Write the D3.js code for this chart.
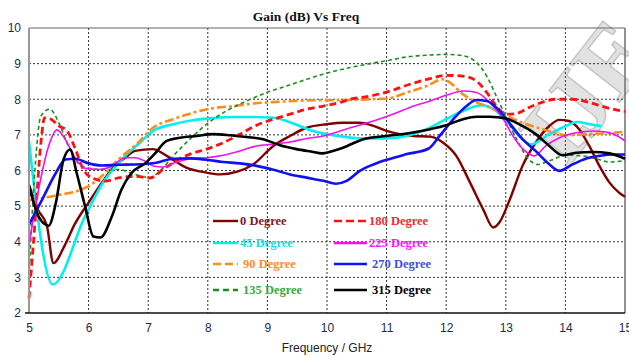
<!DOCTYPE html>
<html>
<head>
<meta charset="utf-8">
<script src="https://cdn.jsdelivr.net/npm/d3@7"></script>
<style>
  body { margin: 0; background: #fff; }
  svg { display: block; }
</style>
</head>
<body>
<div class="dataviz"></div>
<script>
// values, [freq GHz, gain dB]
const deg0 = [[5.0,5.6],[5.15,4.9],[5.3,4.45],[5.41,3.4],[5.6,3.9],[5.77,4.5],[6.0,5.1],[6.22,5.65],[6.45,6.15],[6.61,6.35],[6.78,6.55],[7.08,6.6],[7.31,6.41],[7.64,6.08],[7.98,5.94],[8.2,5.89],[8.48,5.96],[8.76,6.17],[9.1,6.69],[9.38,6.97],[9.66,7.2],[10.0,7.3],[10.27,7.34],[10.55,7.34],[10.78,7.25],[11.0,7.11],[11.22,7.02],[11.45,6.97],[11.73,6.95],[11.95,6.78],[12.17,6.41],[12.4,5.66],[12.62,4.91],[12.79,4.4],[12.9,4.56],[13.07,5.2],[13.28,6.13],[13.5,6.78],[13.73,7.25],[13.9,7.42],[14.06,7.39],[14.23,7.16],[14.4,6.69],[14.57,6.13],[14.74,5.66],[14.9,5.38],[15,5.26]]
const deg45 = [[5.0,6.82],[5.4,2.8],[5.94,4.71],[6.22,5.6],[6.61,6.4],[6.86,6.78],[7.08,7.11],[7.42,7.3],[7.75,7.41],[8.09,7.47],[8.43,7.5],[8.76,7.5],[9.1,7.48],[9.32,7.39],[9.54,7.25],[9.77,7.11],[10.0,7.02],[10.27,6.95],[10.61,6.9],[10.94,6.9],[11.34,6.97],[11.67,7.16],[12.0,7.44],[12.28,7.67],[12.51,7.81],[12.62,7.83],[12.79,7.72],[13.0,7.42],[13.22,6.97],[13.42,6.73],[13.73,7.02],[14.01,7.25],[14.2,7.36],[14.4,7.3],[14.6,7.25]]
const deg90 = [[5.0,5.16],[5.45,5.3],[5.94,5.51],[6.22,5.84],[6.5,6.31],[6.83,6.78],[7.08,7.2],[7.42,7.44],[7.75,7.62],[8.09,7.75],[8.43,7.81],[8.76,7.88],[9.1,7.92],[9.43,7.95],[9.77,7.97],[10.05,7.97],[10.39,7.98],[10.72,8.0],[11.0,8.02],[11.34,8.19],[11.67,8.37],[11.95,8.56],[12.06,8.47],[12.28,8.14],[12.51,7.91],[12.73,7.77],[13.0,7.55],[13.28,7.34],[13.62,7.16],[14.01,6.99],[14.34,7.02],[14.62,7.04],[14.96,7.08]]
const deg135 = [[5.0,3.02],[5.1,6.03],[5.2,7.53],[5.35,7.72],[5.5,7.34],[5.66,6.69],[5.89,6.12],[6.22,6.03],[6.5,6.03],[6.78,5.89],[7.03,5.8],[7.2,5.99],[7.42,6.41],[7.7,6.88],[7.98,7.3],[8.31,7.67],[8.65,7.95],[8.99,8.19],[9.32,8.37],[9.66,8.56],[9.99,8.73],[10.39,8.89],[10.72,9.0],[11.06,9.1],[11.39,9.2],[11.73,9.24],[12.0,9.26],[12.28,9.22],[12.51,9.03],[12.68,8.65],[12.84,8.09],[13.01,7.48],[13.18,6.88],[13.39,6.31],[13.53,6.17],[13.73,6.27],[14.01,6.43],[14.29,6.41],[14.51,6.33],[14.74,6.24],[15,6.28]]
const deg180 = [[5.0,2.41],[5.1,4.53],[5.2,6.78],[5.26,7.48],[5.37,7.44],[5.5,7.25],[5.64,7.11],[5.77,6.64],[5.91,6.03],[6.06,5.79],[6.28,5.7],[6.5,5.79],[6.78,5.84],[7.03,5.79],[7.25,6.03],[7.42,6.22],[7.7,6.46],[7.98,6.6],[8.26,6.78],[8.54,7.02],[8.82,7.27],[9.1,7.44],[9.38,7.58],[9.66,7.72],[9.94,7.81],[10.22,7.91],[10.39,8.0],[10.72,8.09],[11.06,8.23],[11.39,8.42],[11.73,8.58],[12.0,8.67],[12.28,8.65],[12.51,8.51],[12.68,8.19],[12.84,7.81],[13.01,7.58],[13.18,7.6],[13.39,7.77],[13.62,7.92],[13.84,8.0],[14.12,8.0],[14.4,7.91],[14.68,7.77],[15,7.65]]
const deg225 = [[5.0,3.92],[5.16,5.46],[5.33,6.69],[5.47,7.14],[5.61,6.87],[5.77,6.36],[5.94,6.06],[6.17,6.03],[6.39,6.12],[6.61,6.36],[6.78,6.36],[6.95,6.26],[7.1,6.12],[7.25,6.1],[7.42,6.2],[7.7,6.33],[7.98,6.36],[8.26,6.43],[8.54,6.55],[8.82,6.69],[9.1,6.74],[9.38,6.8],[9.66,6.9],[9.94,6.97],[10.05,7.02],[10.39,7.2],[10.72,7.36],[11.06,7.55],[11.39,7.77],[11.73,7.95],[12.0,8.11],[12.28,8.23],[12.51,8.19],[12.73,7.91],[12.96,7.44],[13.12,6.97],[13.29,6.6],[13.48,6.41],[13.67,6.69],[13.9,6.92],[14.18,7.06],[14.46,7.11],[14.68,7.08],[14.85,6.99],[15,6.83]]
const deg270 = [[5.0,4.48],[5.22,5.18],[5.45,5.93],[5.61,6.31],[5.77,6.33],[6.0,6.2],[6.22,6.14],[6.5,6.16],[6.78,6.17],[7.14,6.22],[7.42,6.33],[7.7,6.34],[7.98,6.3],[8.26,6.24],[8.54,6.2],[8.82,6.13],[9.1,6.02],[9.38,5.89],[9.66,5.8],[9.94,5.71],[10.15,5.63],[10.33,5.71],[10.55,5.99],[10.78,6.17],[11.0,6.3],[11.34,6.46],[11.7,6.61],[11.89,6.97],[12.12,7.44],[12.34,7.81],[12.51,7.98],[12.68,7.95],[12.84,7.77],[13.01,7.44],[13.28,6.88],[13.5,6.55],[13.7,6.22],[13.9,5.99],[14.12,6.17],[14.34,6.33],[14.57,6.41],[14.79,6.45],[15,6.45]]
const deg315 = [[5.0,5.56],[5.16,4.71],[5.28,4.48],[5.33,4.45],[5.45,5.09],[5.58,6.31],[5.69,6.59],[5.8,5.93],[5.94,5.0],[6.08,4.15],[6.2,4.12],[6.39,4.71],[6.55,5.46],[6.72,5.93],[6.95,6.2],[7.1,6.45],[7.31,6.83],[7.53,6.92],[7.81,6.97],[8.09,7.02],[8.37,6.99],[8.65,6.94],[8.93,6.88],[9.21,6.71],[9.49,6.6],[9.77,6.52],[9.91,6.48],[10.1,6.55],[10.27,6.64],[10.61,6.88],[11.0,6.97],[11.34,7.04],[11.73,7.16],[12.0,7.27],[12.28,7.44],[12.51,7.51],[12.73,7.51],[13.0,7.46],[13.28,7.25],[13.5,7.02],[13.73,6.69],[13.95,6.43],[14.18,6.5],[14.46,6.52],[14.74,6.48],[15,6.33]]

const seriesNames = ['0 Degree', '45 Degree', '90 Degree', '135 Degree', '180 Degree', '225 Degree', '270 Degree', '315 Degree']
const seriesValues = [deg0, deg45, deg90, deg135, deg180, deg225, deg270, deg315]

const xTicks = [5, 6, 7, 8, 9, 10, 11, 12, 13, 14, 15]
const yTicks = [2, 3, 4, 5, 6, 7, 8, 9, 10]

const chartTitle = 'Gain (dB) Vs Freq'
const xTitle = 'Frequency / GHz'

// styles
const lineColors = ['#800000', '#00f0f0', '#ff8c1a', '#1e8c1e', '#ff1010', '#f010f0', '#1010f0', '#000000']
const textColors = ['#7a1a28', '#10e0e0', '#ff8a30', '#3aa83a', '#e83030', '#ff10ff', '#4050e0', '#000000']
const lineWidths = [2.4, 2.6, 2.6, 1.6, 2.8, 1.6, 2.6, 2.6]
const lineDash = [null, null, '9,3,3,3', '4,3', '7,4', null, null, null]
const legendDash = [null, null, '8,4', '6,4', '8,4', null, null, null]

const chartW = 629
const chartH = 356
const plot = { left: 29, right: 625, top: 28, bottom: 313 }

const svg = d3.select('.dataviz').append('svg')
  .attr('width', chartW)
  .attr('height', chartH)
  .style('background', '#fff')

const xScale = d3.scaleLinear().domain([5, 15]).range([plot.left, plot.right])
const yScale = d3.scaleLinear().domain([2, 10]).range([plot.bottom, plot.top])

// watermark, sits behind everything and runs off the right edge
svg.append('text')
  .attr('transform', 'translate(612,112) rotate(-52)')
  .attr('font-family', 'Liberation Serif')
  .attr('font-weight', 'bold')
  .attr('font-size', 96)
  .attr('fill', '#e2e2e2')
  .attr('stroke', '#c6c6c6')
  .attr('stroke-width', 1.5)
  .attr('text-anchor', 'middle')
  .text('IJE')

// grid
svg.append('g')
  .selectAll('line')
  .data(yTicks.filter(d => d > 2 && d < 10))
  .join('line')
  .attr('x1', plot.left).attr('x2', plot.right)
  .attr('y1', d => yScale(d)).attr('y2', d => yScale(d))
  .attr('stroke', '#333')
  .attr('stroke-dasharray', '2,2')

svg.append('g')
  .selectAll('line')
  .data(xTicks.filter(d => d > 5 && d < 15))
  .join('line')
  .attr('x1', d => xScale(d)).attr('x2', d => xScale(d))
  .attr('y1', plot.top).attr('y2', plot.bottom)
  .attr('stroke', '#333')
  .attr('stroke-dasharray', '2,2')

// frame
svg.append('line')
  .attr('x1', plot.left).attr('x2', plot.right).attr('y1', plot.top).attr('y2', plot.top)
  .attr('stroke', '#666').attr('stroke-width', 1.2)
svg.append('line')
  .attr('x1', plot.right).attr('x2', plot.right).attr('y1', plot.top).attr('y2', plot.bottom)
  .attr('stroke', '#777').attr('stroke-width', 1.6)

// axes
const xAxis = svg.append('g')
  .attr('transform', `translate(0, ${plot.bottom})`)
  .call(d3.axisBottom(xScale).tickValues(xTicks).tickSize(0).tickPadding(10).tickFormat(d3.format('d')))
xAxis.select('.domain').remove()
xAxis.selectAll('text')
  .attr('font-family', 'Liberation Sans')
  .attr('font-size', 12)
  .attr('fill', '#1c2c4c')

const yAxis = svg.append('g')
  .attr('transform', `translate(${plot.left}, 0)`)
  .call(d3.axisLeft(yScale).tickValues(yTicks).tickSize(0).tickPadding(8).tickFormat(d3.format('d')))
yAxis.select('.domain').remove()
yAxis.selectAll('text')
  .attr('font-family', 'Liberation Sans')
  .attr('font-size', 12)
  .attr('fill', '#1c2c4c')

// series
const line = d3.line()
  .curve(d3.curveMonotoneX)
  .x(d => xScale(d[0]))
  .y(d => yScale(d[1]))

svg.append('g')
  .selectAll('path')
  .data(seriesValues)
  .join('path')
  .attr('d', line)
  .attr('fill', 'none')
  .attr('stroke', (d, i) => lineColors[i])
  .attr('stroke-width', (d, i) => lineWidths[i])
  .attr('stroke-dasharray', (d, i) => lineDash[i])
  .attr('stroke-linejoin', 'round')

// axis lines on top
svg.append('line')
  .attr('x1', plot.left).attr('x2', plot.left).attr('y1', plot.top).attr('y2', plot.bottom)
  .attr('stroke', '#999').attr('stroke-width', 2)
svg.append('line')
  .attr('x1', plot.left - 4).attr('x2', plot.right).attr('y1', plot.bottom).attr('y2', plot.bottom)
  .attr('stroke', '#111').attr('stroke-width', 1.5)

// legend: two columns of four
const legendX = [[213, 239], [334, 368]]
const legendY = [221, 243, 264, 290]

const legend = svg.append('g')
  .selectAll('g')
  .data(seriesNames)
  .join('g')
  .attr('transform', (d, i) => `translate(${legendX[Math.floor(i / 4)][0]}, ${legendY[i % 4]})`)

legend.append('line')
  .attr('x1', 0)
  .attr('x2', (d, i) => legendX[Math.floor(i / 4)][1] - legendX[Math.floor(i / 4)][0] - 1)
  .attr('stroke', (d, i) => lineColors[i])
  .attr('stroke-width', 2.4)
  .attr('stroke-dasharray', (d, i) => legendDash[i])

legend.append('text')
  .attr('x', (d, i) => legendX[Math.floor(i / 4)][1] - legendX[Math.floor(i / 4)][0] + (i % 4 > 1 ? 4 : 1))
  .attr('y', 4)
  .attr('font-family', 'Liberation Serif')
  .attr('font-weight', 'bold')
  .attr('font-size', 12.5)
  .attr('fill', (d, i) => textColors[i])
  .text(d => d)

// titles
svg.append('text')
  .attr('x', 306)
  .attr('y', 21)
  .attr('text-anchor', 'middle')
  .attr('font-family', 'Liberation Serif')
  .attr('font-weight', 'bold')
  .attr('font-size', 13.5)
  .attr('fill', '#111')
  .text(chartTitle)

svg.append('text')
  .attr('x', 327)
  .attr('y', 352)
  .attr('text-anchor', 'middle')
  .attr('font-family', 'Liberation Sans')
  .attr('font-size', 12)
  .attr('fill', '#222')
  .text(xTitle)
</script>
</body>
</html>
